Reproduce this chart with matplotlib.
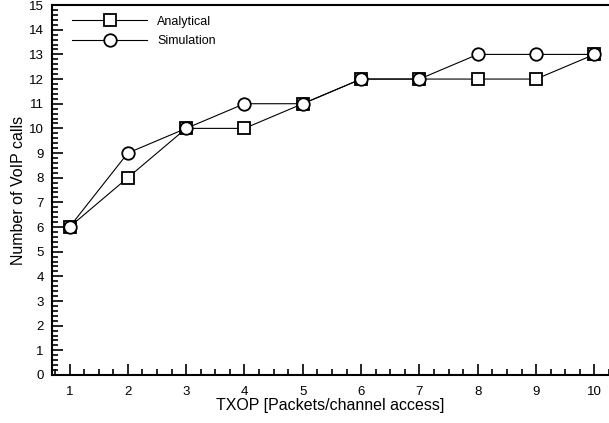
import matplotlib
matplotlib.use("Agg")
import matplotlib.pyplot as plt
from matplotlib.ticker import MultipleLocator

plt.rcParams['font.family'] = ['Liberation Sans', 'DejaVu Sans']

txop = [1, 2, 3, 4, 5, 6, 7, 8, 9, 10]
analytical = [6, 8, 10, 10, 11, 12, 12, 12, 12, 13]
simulation = [6, 9, 10, 11, 11, 12, 12, 13, 13, 13]

fig = plt.figure(figsize=(6.09, 4.23), dpi=100)
ax = fig.add_axes([0.0854, 0.1135, 0.9146, 0.8745])

ax.plot(txop, analytical, color='black', lw=0.8, marker='s', ms=8,
        mfc='white', mec='black', mew=1.3, label='Analytical')
ax.plot(txop, simulation, color='black', lw=0.8, marker='o', ms=9,
        mfc='white', mec='black', mew=1.3, label='Simulation')

ax.set_xlim(0.7, 10.25)
ax.set_ylim(0, 15)
ax.xaxis.set_major_locator(MultipleLocator(1))
ax.xaxis.set_minor_locator(MultipleLocator(0.25))
ax.yaxis.set_major_locator(MultipleLocator(1))
ax.yaxis.set_minor_locator(MultipleLocator(0.2))
ax.tick_params(which='both', direction='in', top=False, right=False,
               labelsize=9.5, width=1.2)
ax.tick_params(which='major', length=8)
ax.tick_params(which='minor', length=4)
ax.tick_params(axis='x', which='major', pad=8)
ax.tick_params(axis='y', which='major', pad=6)
for s in ax.spines.values():
    s.set_linewidth(1.5)
ax.spines['right'].set_visible(False)

ax.set_xlabel('TXOP [Packets/channel access]', fontsize=11.5, labelpad=0)
ax.set_ylabel('Number of VoIP calls', fontsize=11.5, labelpad=2)

ax.legend(loc='upper left', frameon=False, fontsize=9, handlelength=6,
          bbox_to_anchor=(0.027, 0.985), borderaxespad=0, labelspacing=0.6)

fig.savefig('out.png', dpi=100)
